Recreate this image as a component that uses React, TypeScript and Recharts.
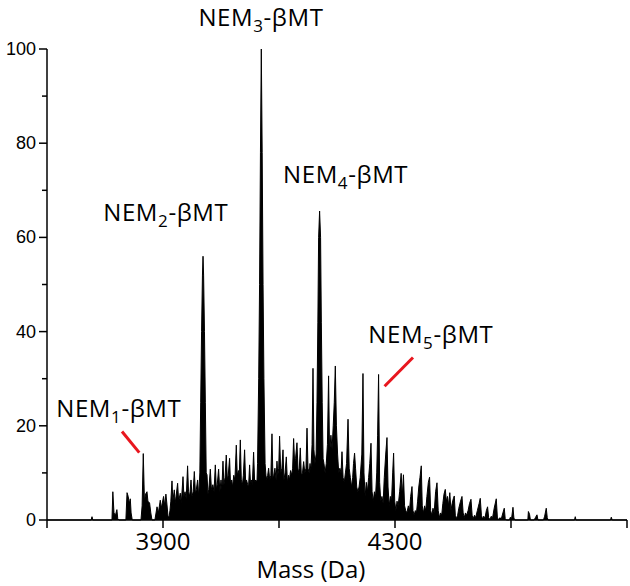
import { AreaChart, Area, XAxis, YAxis, ReferenceLine, ReferenceDot } from "recharts";

type Pt = [number, number];

// [mass (Da), relative intensity]
const lowMassPeaks: Pt[] = [
  [3700, 0], [3776, 0], [3777.6, 0.7], [3779, 0],
  [3812, 0], [3813.5, 6.0], [3815.5, 1.5], [3818, 1], [3820.5, 2.2], [3822, 0.3], [3824, 0],
  [3836, 0], [3838, 5.8], [3840, 5.0], [3842, 3.5], [3843.6, 4.5], [3845, 1.5], [3847, 0],
  [3862, 0], [3864, 3], [3866, 14.1], [3868, 4], [3870, 5.5], [3872.4, 6], [3874, 4], [3876.9, 3.6], [3879, 1.5], [3881, 0],
  [3886, 0], [3889.7, 2.8], [3892, 1.5], [3895.3, 4.2], [3897, 2.5], [3901, 5], [3903, 3], [3905, 5.5], [3906.9, 3.2],
  [3908.5, 1], [3910, 0.3], [3912, 2],
];

const nem2Region: Pt[] = [
  [3913.5, 4], [3915.5, 8.3], [3917, 4], [3919.5, 6.4], [3921, 3.5], [3922.5, 5], [3925.2, 7.8], [3927, 4],
  [3929.8, 5.7], [3931.5, 3.5], [3934.5, 9.2], [3936, 5], [3938, 6], [3940, 4.5], [3942.4, 11.5], [3944, 6],
  [3946, 5], [3948.3, 8.5], [3950, 5], [3952, 6], [3954, 10.3], [3956, 5.5], [3957.5, 6.5], [3959.7, 8.5],
  [3961.5, 5], [3963.5, 10], [3965, 25], [3966.5, 40], [3968, 52], [3969, 56], [3970, 52], [3971.5, 40],
  [3973, 25], [3974.5, 10], [3975.9, 9.6], [3977.5, 5.5], [3979, 6.5], [3981.6, 10.8], [3983.5, 6.5], [3986, 7.5],
  [3988, 6], [3990.2, 11.7], [3992, 6.5], [3993.5, 7.5], [3995.9, 10.8], [3998, 6], [4000, 8.5], [4001.5, 6.5],
  [4003.4, 12.5], [4005, 7.5], [4007, 9], [4009.1, 13.8], [4011, 8.5], [4012.5, 9.5], [4014.8, 13.1], [4016.5, 7.5],
  [4018.5, 8.5], [4020, 7], [4022, 9.5], [4024, 8.5], [4026.4, 15.9], [4028, 9.5], [4030, 10.5], [4031.5, 9.5],
  [4033.3, 17], [4035, 8.5], [4037, 7.5], [4038.5, 9.5], [4040.7, 14.9], [4042.5, 8], [4044, 8.5], [4046, 7.5],
  [4047.5, 7], [4049.3, 11.7], [4051, 7.5], [4052.5, 8.5], [4054, 7.5], [4056.2, 14.4], [4058, 8],
];

const nem3Region: Pt[] = [
  [4060, 8.5], [4062, 8], [4063, 12], [4065, 30], [4066.5, 50], [4068, 78], [4069.5, 100], [4071, 78],
  [4072.5, 50], [4074, 30], [4076, 12], [4077.5, 9.5], [4079, 8.5], [4080.5, 9.5], [4082.1, 11], [4084, 8.5],
  [4086, 9.5], [4087.9, 18.3], [4089.5, 9], [4091, 9.5], [4093, 11], [4095, 8.5], [4096.5, 12.5], [4098, 9.5],
  [4099.5, 11], [4101, 17.8], [4103, 10], [4105, 11], [4106.9, 14.9], [4108.5, 8.5], [4110.5, 10], [4112.6, 13.4],
  [4114.5, 8], [4116.5, 9.5], [4118, 8.5], [4120, 10.5], [4122, 9.5], [4123.5, 11], [4125.2, 17.3], [4127, 12],
  [4128.5, 13], [4131, 16.4], [4133, 10], [4135, 11], [4136.7, 15.3], [4138.5, 9.5], [4140.5, 10], [4142.5, 12.4],
  [4144.5, 10], [4146.5, 11], [4148.3, 19.5], [4150, 11],
];

const nem4Region: Pt[] = [
  [4152, 10], [4153.5, 12], [4155, 10.5], [4157, 16], [4158.6, 32.2], [4160.2, 15], [4162, 12], [4164, 14],
  [4165.5, 25], [4167, 42], [4168.3, 60], [4170, 65.6], [4171.7, 60], [4173, 42], [4174.5, 25], [4176, 13],
  [4177.5, 12], [4179.5, 10], [4181.5, 12], [4183.5, 16], [4185.5, 30.6], [4187.2, 14], [4189.5, 18], [4191.5, 15],
  [4193.5, 20], [4195.3, 25], [4197.1, 32.7], [4199, 20], [4201, 14], [4203, 10], [4205, 11], [4207, 10],
  [4208.6, 14.5], [4210.5, 9], [4212.5, 8], [4214.5, 10], [4216.5, 12], [4219, 21.4], [4221, 11], [4223, 9],
  [4225, 7], [4227, 9], [4228.5, 12], [4230.3, 14.2], [4232, 11], [4234, 7], [4236, 6], [4238, 7],
  [4240, 9], [4242.8, 14], [4244.8, 31.1], [4246.5, 10], [4248.5, 5], [4250.5, 8], [4252.5, 6], [4254.5, 9],
  [4256.5, 12], [4258.6, 16.3], [4260.5, 6], [4262.5, 4], [4264.5, 6], [4266.5, 5], [4268.5, 10], [4270, 18],
  [4271.7, 30.9], [4273.5, 8], [4275.5, 4], [4277.5, 5], [4279.5, 3.5], [4281.5, 9], [4284, 14], [4286.2, 17.5],
  [4288, 7], [4290, 3], [4292, 5], [4294, 4], [4296, 10], [4297.6, 14.2], [4299.5, 4],
];

const tailPeaks: Pt[] = [
  [4301.5, 2], [4303.5, 4], [4305.5, 3], [4308, 6], [4310.6, 9.9], [4312.5, 5], [4314.6, 9.6], [4316.5, 3],
  [4318.5, 2], [4320.5, 1.5], [4323, 3], [4325, 2], [4327, 5], [4329.3, 7.1], [4331, 2], [4333, 1],
  [4335, 2], [4337, 1.5], [4339, 4], [4341, 7], [4343, 9], [4345.3, 11.5], [4347, 3], [4349, 1.5],
  [4351, 3], [4353, 2], [4355, 5], [4357.5, 8], [4359.6, 9.1], [4361.5, 2], [4363.5, 1], [4365.5, 2.5],
  [4367.5, 1.5], [4370, 6], [4372.4, 7.9], [4374.5, 2], [4376.5, 0.5], [4378.5, 1.5], [4380.5, 1], [4382.5, 3.5],
  [4384.5, 5.5], [4386.7, 6.5], [4388.5, 4], [4390.5, 5], [4392.5, 3], [4394.5, 5.8], [4396.5, 2], [4398.5, 3.5],
  [4400.5, 4.5], [4402.2, 5.1], [4404, 1], [4406, 0.3], [4408, 1], [4410, 2.5], [4413, 4], [4415.5, 5],
  [4417.5, 1.5], [4419.5, 0.5], [4421.5, 1.5], [4423.5, 1], [4426, 2], [4428.5, 3.5], [4431, 4.4], [4433, 1],
  [4435, 0.3], [4437, 1], [4439, 0.5], [4442, 2], [4445, 3.5], [4447, 4.6], [4449, 1], [4451, 0.2],
  [4453, 0.8], [4455, 0.3], [4457.5, 2], [4459.6, 2.8], [4461.5, 0.5], [4463.5, 0.1], [4466, 0.8], [4468, 0.3],
  [4471, 2.5], [4474.6, 4.5], [4476.5, 0.6], [4478.5, 0], [4481, 0.5], [4483, 0.1], [4486, 1.5], [4488.4, 2.5],
  [4490, 0.3], [4492, 0], [4497, 0], [4499, 0.6], [4501, 0.3], [4503.4, 2.7], [4505, 0.4], [4507, 0],
  [4529, 0], [4530, 1.8], [4532, 1.2], [4533.5, 0], [4540, 0], [4542, 0.5], [4544.8, 1.1], [4546.5, 0],
  [4556, 0], [4558, 0.8], [4560.8, 2.5], [4562.5, 0.5], [4564, 0], [4609.5, 0], [4610.8, 0.7], [4612, 0],
  [4671.5, 0], [4672.9, 0.6], [4674.5, 0], [4700, 0],
];

const xTicks = [3700, 3900, 4100, 4300, 4500, 4700];
const xLabelled = [3900, 4300];
const yTicks = [0, 10, 20, 30, 40, 50, 60, 70, 80, 90, 100];
const yLabelled = [0, 20, 40, 60, 80, 100];

// label anchors in data space: [mass, intensity]
const nemLabels: { n: string; at: Pt }[] = [
  { n: "1", at: [3716, 21.9] },
  { n: "2", at: [3797, 63.5] },
  { n: "3", at: [3961, 104.9] },
  { n: "4", at: [4107, 71.5] },
  { n: "5", at: [4254, 37.6] },
];
const pointers: [Pt, Pt][] = [
  [[3829.3, 18.8], [3859.1, 14.3]],
  [[4331, 34.5], [4282, 28.4]],
];

const spectrum = [...lowMassPeaks, ...nem2Region, ...nem3Region, ...nem4Region, ...tailPeaks].map(
  ([mass, intensity]) => ({ mass, intensity })
);

const YTick = ({ x, y, payload }: any) => {
  const major = yLabelled.includes(payload.value);
  return (
    <g>
      <line x1={x} x2={x - (major ? 8 : 5)} y1={y} y2={y} stroke="#000" strokeWidth={1.5} />
      {major && (
        <text x={x - 11} y={y} dy={6} textAnchor="end" fontSize={18} fontFamily="Liberation Sans, Arial" fill="#000">
          {payload.value}
        </text>
      )}
    </g>
  );
};

const XTick = ({ x, y, payload }: any) => (
  <g>
    <line x1={x} x2={x} y1={y} y2={y + 8} stroke="#000" strokeWidth={1.5} />
    {xLabelled.includes(payload.value) && (
      <text x={x} y={y + 30} textAnchor="middle" fontSize={24} fontFamily="Open Sans" fill="#000">
        {payload.value}
      </text>
    )}
  </g>
);

const AxisTitle = ({ viewBox }: any) => (
  <text x={viewBox.x + viewBox.width * 0.455} y={viewBox.y + 58} textAnchor="middle" fontSize={24} fontFamily="Open Sans" fill="#000">
    Mass (Da)
  </text>
);

const NemLabel = ({ viewBox, n }: any) => (
  <text x={viewBox.x} y={viewBox.y} fontSize={24} letterSpacing={0.6} fontFamily="Open Sans" fill="#000">
    NEM
    <tspan fontSize={17} dy={6}>{n}</tspan>
    <tspan dy={-6}>-βMT</tspan>
  </text>
);

export default function App() {
  return (
    <div style={{ position: "absolute", left: 0, top: 0, background: "#fff" }}>
      <AreaChart width={630} height={586} data={spectrum} margin={{ top: 49, right: 3, left: 0, bottom: 36 }}>
        <XAxis
          dataKey="mass"
          type="number"
          domain={[3700, 4700]}
          ticks={xTicks}
          height={30}
          axisLine={{ stroke: "#000", strokeWidth: 1.5 }}
          tickLine={false}
          tickSize={0}
          tickMargin={0}
          tick={<XTick />}
          interval={0}
          label={<AxisTitle />}
        />
        <YAxis
          type="number"
          domain={[0, 100]}
          ticks={yTicks}
          width={47}
          axisLine={{ stroke: "#000", strokeWidth: 1.5 }}
          tickLine={false}
          tickSize={0}
          tickMargin={0}
          tick={<YTick />}
          interval={0}
        />
        <Area
          type="linear"
          dataKey="intensity"
          stroke="#000"
          strokeWidth={1}
          fill="#000"
          fillOpacity={1}
          dot={false}
          activeDot={false}
          isAnimationActive={false}
        />
        {pointers.map((seg, i) => (
          <ReferenceLine
            key={i}
            segment={[{ x: seg[0][0], y: seg[0][1] }, { x: seg[1][0], y: seg[1][1] }]}
            stroke="#e8161e"
            strokeWidth={3}
          />
        ))}
        {nemLabels.map((l) => (
          <ReferenceDot
            key={l.n}
            x={l.at[0]}
            y={l.at[1]}
            r={0}
            fill="none"
            stroke="none"
            ifOverflow="visible"
            label={<NemLabel n={l.n} />}
          />
        ))}
      </AreaChart>
    </div>
  );
}
